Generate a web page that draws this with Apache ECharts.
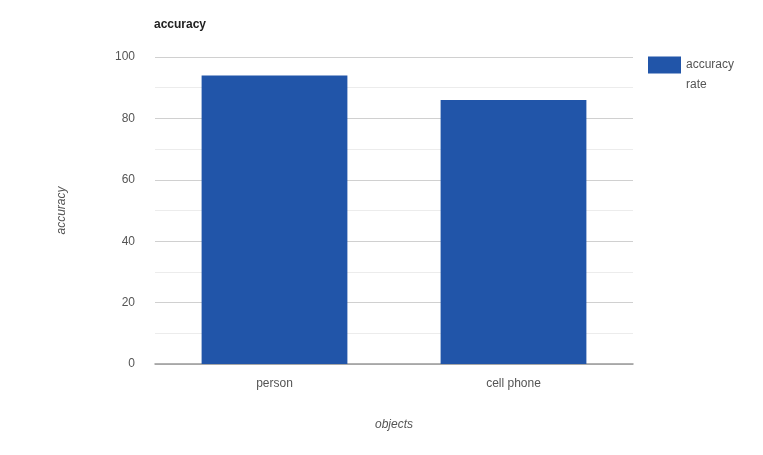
<!DOCTYPE html>
<html>
<head>
<meta charset="utf-8">
<script src="https://cdn.jsdelivr.net/npm/echarts@6/dist/echarts.min.js"></script>
<style>
  html, body { margin: 0; padding: 0; background: #fff; }
  #chart { width: 763px; height: 455px; }
</style>
</head>
<body>
<div id="chart"></div>
<script>
// Detection accuracy per object class
const categories = ['person', 'cell phone'];
const accuracyRate = [94, 86];
const seriesName = 'accuracy rate';
const yTicks = { min: 0, max: 100, interval: 20 };

const chart = echarts.init(document.getElementById('chart'));
const font = 'Arial, "Liberation Sans", sans-serif';

chart.setOption({
  animation: false,
  backgroundColor: '#ffffff',
  textStyle: { fontFamily: font },
  title: {
    text: 'accuracy',
    left: 149,
    top: 14,
    textStyle: { fontSize: 12, fontWeight: 'bold', color: '#222', fontFamily: font }
  },
  legend: {
    data: [seriesName],
    left: 643,
    top: 34,
    orient: 'vertical',
    itemWidth: 33,
    itemHeight: 17,
    icon: 'rect',
    // wrap the name onto two lines; an empty leading line keeps the swatch level with the first line
    formatter: function (name) {
      const parts = name.split(' ');
      return '{s| }\n{t|' + parts[0] + '}\n{t|' + parts[1] + '}';
    },
    textStyle: {
      fontSize: 12, color: '#555', fontFamily: font,
      rich: {
        s: { fontSize: 12, lineHeight: 20 },
        t: { fontSize: 12, lineHeight: 20, color: '#555', fontFamily: font }
      }
    }
  },
  grid: { left: 155, right: 130, top: 57, bottom: 91 },
  xAxis: {
    type: 'category',
    data: categories,
    name: 'objects',
    nameLocation: 'middle',
    nameGap: 55,
    nameTextStyle: { fontStyle: 'italic', fontSize: 12, color: '#555', fontFamily: font },
    axisLine: { lineStyle: { color: '#999', width: 1.5 } },
    axisTick: { show: false },
    axisLabel: { fontSize: 12, color: '#555', margin: 14, fontFamily: font }
  },
  yAxis: {
    type: 'value',
    min: yTicks.min,
    max: yTicks.max,
    interval: yTicks.interval,
    name: 'accuracy',
    nameLocation: 'middle',
    nameGap: 87,
    nameRotate: 90,
    nameTextStyle: { fontStyle: 'italic', fontSize: 12, color: '#555', fontFamily: font },
    axisLine: { show: false },
    axisTick: { show: false },
    axisLabel: { fontSize: 12, color: '#555', margin: 20, fontFamily: font },
    splitLine: { lineStyle: { color: '#d0d0d0', width: 1 } },
    minorTick: { show: false, splitNumber: 2 },
    minorSplitLine: { show: true, lineStyle: { color: '#ececec', width: 1 } }
  },
  series: [{
    name: seriesName,
    type: 'bar',
    data: accuracyRate,
    barCategoryGap: '39%',
    itemStyle: { color: '#2155a9' }
  }]
});
</script>
</body>
</html>
